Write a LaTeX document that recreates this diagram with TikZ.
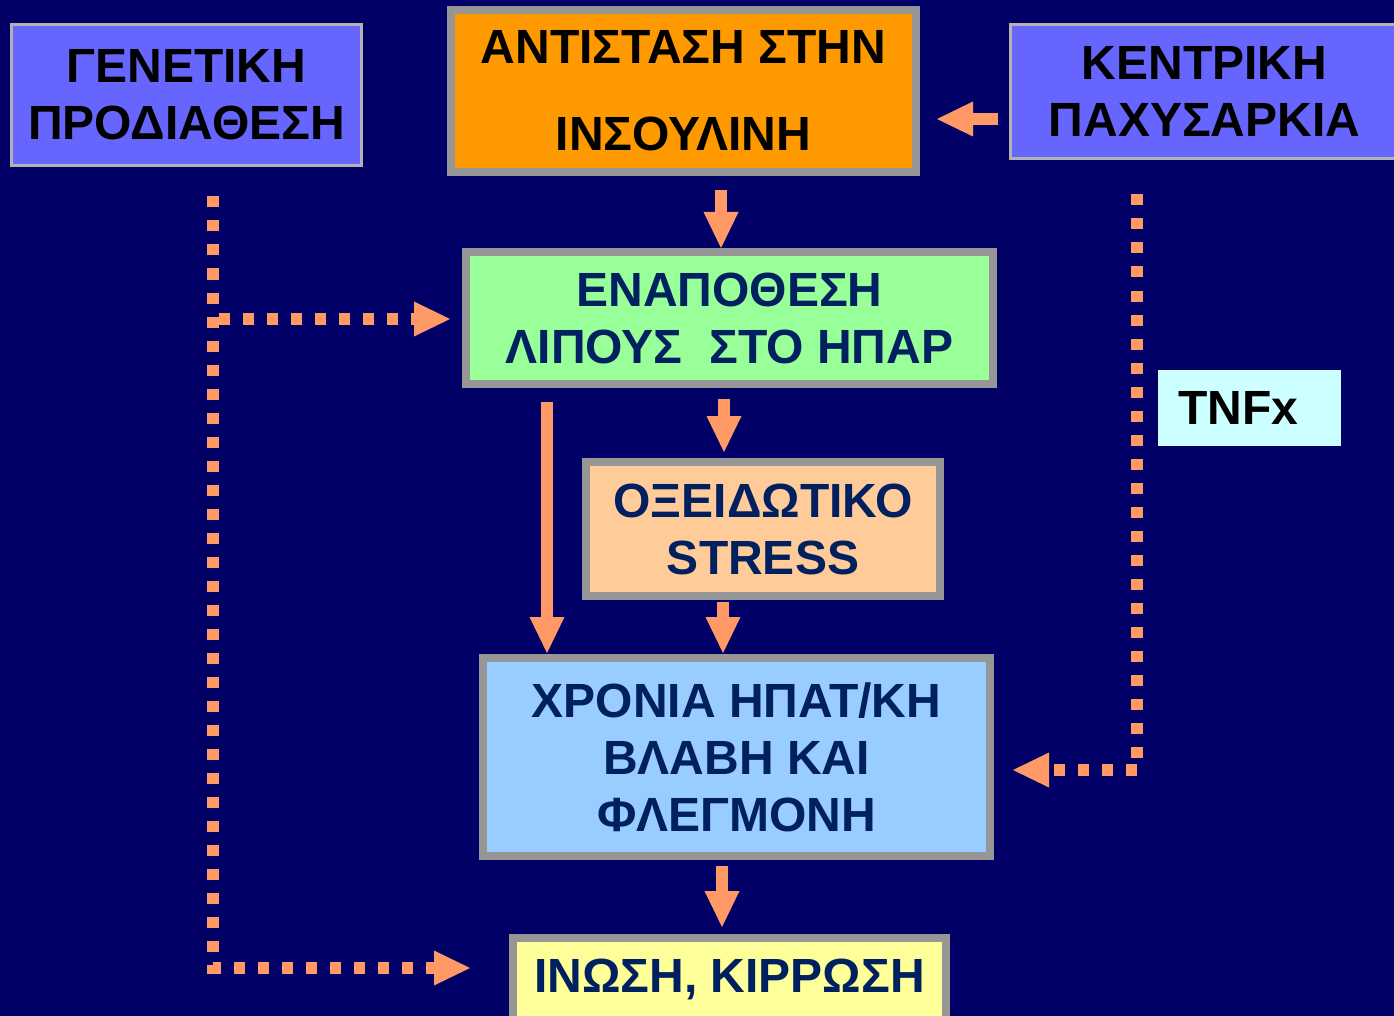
\documentclass[tikz,border=0pt]{standalone}
\usepackage{fontspec}
\setmainfont{Liberation Sans}
\usetikzlibrary{arrows.meta,calc}
\definecolor{bg}{RGB}{0,0,102}
\definecolor{salmon}{RGB}{255,153,102}
\definecolor{boxgray}{RGB}{150,150,150}
\definecolor{thingray}{RGB}{178,178,178}
\definecolor{navytext}{RGB}{0,32,96}
\definecolor{violetfill}{RGB}{102,102,255}
\definecolor{orangefill}{RGB}{255,153,0}
\definecolor{greenfill}{RGB}{153,255,153}
\definecolor{peachfill}{RGB}{255,204,153}
\definecolor{bluefill}{RGB}{153,204,255}
\definecolor{yellowfill}{RGB}{255,255,153}
\definecolor{cyanfill}{RGB}{204,255,255}
\begin{document}
\begin{tikzpicture}[x=1pt,y=-1pt,
  every node/.style={inner sep=0pt, outer sep=0pt, align=center},
  bigfont/.style={font=\bfseries\fontsize{48pt}{57pt}\selectfont},
  thickbox/.style={bigfont, draw=boxgray, line width=8pt, text=navytext},
  thinbox/.style={bigfont, draw=thingray, line width=3pt, fill=violetfill, text=black},
  tip/.style={-{Triangle[length=36pt,width=35pt,line width=0pt,fill=salmon]}},
  arrowline/.style={draw=salmon, line width=12pt, tip},
  dotline/.style={draw=salmon, line width=12pt, dash pattern=on 11pt off 13pt, tip}]

\useasboundingbox (0,0) rectangle (1394,1016);
\fill[bg] (0,0) rectangle (1394,1016);

% boxes
\node[thinbox, minimum width=350pt, minimum height=141pt] (gen) at (186.5,95)
  {ΓΕΝΕΤΙΚΗ\\ΠΡΟΔΙΑΘΕΣΗ};
\node[thickbox, fill=orangefill, text=black, minimum width=465pt, minimum height=162pt,
  font=\bfseries\fontsize{48pt}{87pt}\selectfont] (ins) at (683.5,91)
  {ΑΝΤΙΣΤΑΣΗ ΣΤΗΝ\\ΙΝΣΟΥΛΙΝΗ};
\node[thinbox, minimum width=388pt, minimum height=134pt] (kent) at (1204.5,91.5)
  {ΚΕΝΤΡΙΚΗ\\ΠΑΧΥΣΑΡΚΙΑ};
\node[thickbox, fill=greenfill, minimum width=527pt, minimum height=132pt] (fat) at (729.5,318)
  {ΕΝΑΠΟΘΕΣΗ\\ΛΙΠΟΥΣ\ \ ΣΤΟ ΗΠΑΡ};
\node[thickbox, fill=peachfill, minimum width=354pt, minimum height=134pt] (ox) at (763,529)
  {ΟΞΕΙΔΩΤΙΚΟ\\STRESS};
\node[thickbox, fill=bluefill, minimum width=507pt, minimum height=198pt] (chr) at (736.5,757)
  {ΧΡΟΝΙΑ ΗΠΑΤ/ΚΗ\\ΒΛΑΒΗ ΚΑΙ\\ΦΛΕΓΜΟΝΗ};
\node[thickbox, fill=yellowfill, minimum width=433pt, minimum height=82pt] (ino) at (729.5,979)
  {ΙΝΩΣΗ, ΚΙΡΡΩΣΗ};
\node[bigfont, fill=cyanfill, text=black, minimum width=183pt, minimum height=76pt] (tnf) at (1249.5,408)
  {TNFx\hspace{23pt}};

% columns
\coordinate (cA) at (721,0);
\coordinate (cB) at (724,0);
\coordinate (cC) at (723,0);
\coordinate (cD) at (547,0);
\coordinate (cE) at (722,0);
\coordinate (cL) at (213,0);
\coordinate (cR) at (1137,0);

% solid arrows
\path[arrowline] ($(kent.west)+(-13,27.5)$) -- ($(ins.east)+(21,28)$);
\path[arrowline] ($(ins.south -| cA)+(0,18)$) -- ($(fat.north -| cA)+(0,-4)$);
\path[arrowline] ($(fat.south -| cB)+(0,15)$) -- ($(ox.north -| cB)+(0,-10)$);
\path[arrowline] ($(ox.south -| cC)+(0,6)$) -- ($(chr.north -| cC)+(0,-5)$);
\path[arrowline] ($(fat.south -| cD)+(0,18)$) -- ($(chr.north -| cD)+(0,-5)$);
\path[arrowline] ($(chr.south -| cE)+(0,10)$) -- ($(ino.north -| cE)+(0,-11)$);

% dotted connectors
\path[dotline] ($(gen.south -| cL)+(0,31)$) |- ($(ino.west)+(-43,-11)$);
\path[dotline] ($(fat.west -| cL)+(6,1)$) -- ($(fat.west)+(-16,1)$);
\path[dotline] ($(kent.south -| cR)+(0,36)$) |- ($(chr.east)+(23,13)$);
\end{tikzpicture}
\end{document}
